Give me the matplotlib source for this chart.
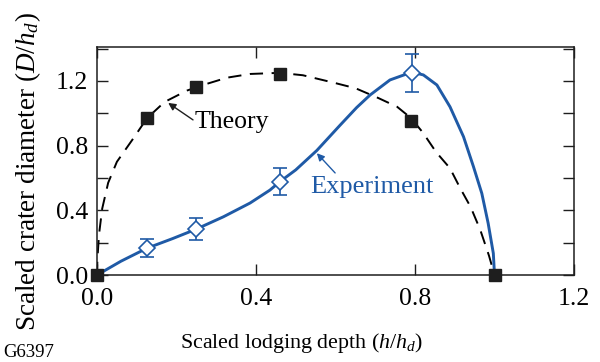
import matplotlib
matplotlib.use("Agg")
import matplotlib.pyplot as plt
from matplotlib.ticker import MultipleLocator, FuncFormatter

plt.rcParams['font.family'] = ['Liberation Serif', 'DejaVu Serif']
plt.rcParams['mathtext.fontset'] = 'custom'
plt.rcParams['mathtext.rm'] = 'Liberation Serif'
plt.rcParams['mathtext.it'] = 'Liberation Serif:italic'

BLUE = '#1f5aa6'
INK = '#1e1e1e'

# Theory: computed points and the model curve
theory_x = [0.0, 0.126, 0.249, 0.46, 0.79, 1.0]
theory_y = [0.0, 0.97, 1.163, 1.245, 0.955, 0.0]
theory_curve_x = [0.0, 0.001, 0.005, 0.013, 0.028, 0.05, 0.09, 0.126, 0.17, 0.226,
                  0.267, 0.327, 0.385, 0.46, 0.518, 0.594, 0.65, 0.707, 0.755, 0.79,
                  0.82, 0.853, 0.888, 0.913, 0.94, 0.964, 0.986, 1.0]
theory_curve_y = [0.0, 0.1, 0.25, 0.41, 0.57, 0.70, 0.84, 0.97, 1.07, 1.14,
                  1.175, 1.22, 1.243, 1.25, 1.235, 1.19, 1.155, 1.095, 1.04, 0.97,
                  0.88, 0.76, 0.66, 0.54, 0.42, 0.28, 0.12, 0.0]

# Experiment: measured points with error bars and the fitted curve
exp_x = [0.125, 0.249, 0.46, 0.792]
exp_y = [0.165, 0.283, 0.577, 1.247]
exp_err = [0.055, 0.067, 0.083, 0.117]
exp_curve_x = [0.0, 0.06, 0.125, 0.19, 0.249, 0.318, 0.385, 0.435, 0.46, 0.50,
               0.553, 0.611, 0.653, 0.687, 0.737, 0.779, 0.80, 0.821, 0.855, 0.888,
               0.922, 0.947, 0.968, 0.984, 0.997, 1.0]
exp_curve_y = [0.0, 0.085, 0.165, 0.225, 0.283, 0.36, 0.445, 0.525, 0.577, 0.65,
               0.77, 0.925, 1.035, 1.113, 1.206, 1.243, 1.25, 1.237, 1.175, 1.04,
               0.855, 0.67, 0.505, 0.32, 0.134, 0.0]

fig = plt.figure(figsize=(6.0, 3.62), dpi=100)
ax = fig.add_axes([0.1617, 0.2403, 0.795, 0.63])

ax.plot(theory_curve_x, theory_curve_y, color='black', lw=1.4,
        dashes=(6.8, 4.4), zorder=2)
ax.plot(exp_curve_x, exp_curve_y, color=BLUE, lw=2.1, zorder=3)
ax.errorbar(exp_x, exp_y, yerr=exp_err, fmt='D', ms=8.5, mfc='white',
            mec=BLUE, mew=1.2, ecolor=BLUE, elinewidth=1.2, capsize=5,
            capthick=1.2, zorder=4)
ax.plot(theory_x, theory_y, 's', color=INK, ms=8, zorder=5, clip_on=False)

ax.set_xlim(0, 1.2)
ax.set_ylim(0, 1.41)
ax.xaxis.set_major_locator(MultipleLocator(0.4))
ax.yaxis.set_major_locator(MultipleLocator(0.4))
ax.yaxis.set_minor_locator(MultipleLocator(0.2))
ax.xaxis.set_major_formatter(FuncFormatter(lambda v, p: f'{v:.1f}'))
ax.yaxis.set_major_formatter(FuncFormatter(lambda v, p: f'{v:.1f}'))
ax.tick_params(which='both', direction='in', top=True, right=True,
               length=8, width=1.0, labelsize=18.5, color=INK)
ax.tick_params(axis='x', pad=9)
ax.tick_params(axis='y', pad=6.5)
for s in ax.spines.values():
    s.set_linewidth(1.1)
    s.set_color(INK)

ax.set_xlabel(r'Scaled lodging depth ($h$/$h_d$)', fontsize=15.8)
ax.xaxis.set_label_coords(0.428, -0.298)
ax.xaxis.label.set_va('center')
ax.set_ylabel(r'Scaled crater diameter ($D$/$h_d$)', fontsize=19.5)
ax.yaxis.set_label_coords(-0.145, 0.452)
ax.yaxis.label.set_va('center')

ax.text(0.2465, 0.946, 'Theory', fontsize=18.5, va='center', ha='left')
ax.annotate('', xy=(0.179, 1.064), xytext=(0.2415, 0.959),
            arrowprops=dict(arrowstyle='-|>', color=INK, lw=1.0,
                            mutation_scale=11, shrinkA=0, shrinkB=0))
ax.text(0.536, 0.544, 'Experiment', fontsize=19, va='center', ha='left',
        color=BLUE)
ax.annotate('', xy=(0.553, 0.753), xytext=(0.599, 0.631),
            arrowprops=dict(arrowstyle='-|>', color=BLUE, lw=1.0,
                            mutation_scale=11, shrinkA=0, shrinkB=0))

fig.text(0.006, 0.027, 'G6397', fontsize=13.5, ha='left', va='center')

fig.savefig('out.png', dpi=100)
